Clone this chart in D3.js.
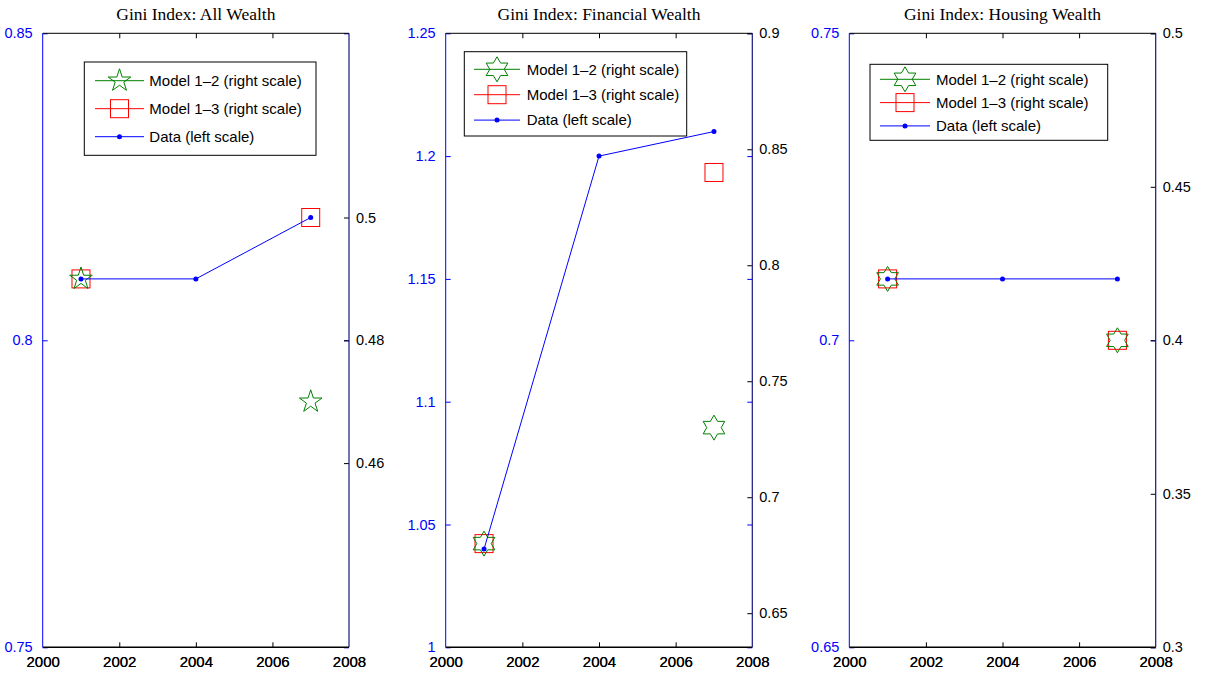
<!DOCTYPE html>
<html>
<head>
<meta charset="utf-8">
<script src="https://cdn.jsdelivr.net/npm/d3@7"></script>
<style>
  html, body { margin: 0; padding: 0; background: #fff; }
  svg { display: block; }
</style>
</head>
<body>
<svg id="chart" width="1208" height="674"></svg>
<script>
// ---- data ----
const years = [2001, 2004, 2007];
const xTicks = [2000, 2002, 2004, 2006, 2008];

const titles = ["Gini Index: All Wealth", "Gini Index: Financial Wealth", "Gini Index: Housing Wealth"];
const legendLabels = ["Model 1\u20132 (right scale)", "Model 1\u20133 (right scale)", "Data (left scale)"];

// Data series (left scale); model series (right scale), no model value for 2004
const allData = [0.81, 0.81, 0.82];
const allModel12 = [0.49, null, 0.47];
const allModel13 = [0.49, null, 0.50];

const finData = [1.04, 1.20, 1.21];
const finModel12 = [0.68, null, 0.73];
const finModel13 = [0.68, null, 0.84];

const houseData = [0.71, 0.71, 0.71];
const houseModel12 = [0.42, null, 0.40];
const houseModel13 = [0.42, null, 0.40];

// axis limits and tick labels
const allLeftDomain = [0.75, 0.85],   allLeftTicks = [0.75, 0.8, 0.85];
const allRightDomain = [0.43, 0.53],  allRightTicks = [0.46, 0.48, 0.5];
const finLeftDomain = [1, 1.25],      finLeftTicks = [1, 1.05, 1.1, 1.15, 1.2, 1.25];
const finRightDomain = [0.6353, 0.9], finRightTicks = [0.65, 0.7, 0.75, 0.8, 0.85, 0.9];
const houseLeftDomain = [0.65, 0.75], houseLeftTicks = [0.65, 0.7, 0.75];
const houseRightDomain = [0.3, 0.5],  houseRightTicks = [0.3, 0.35, 0.4, 0.45, 0.5];

// ---- layout ----
const TOP = 33.3, BOTTOM = 647.3;
const panels = [
  { x0: 42.7, x1: 349, title: titles[0], data: allData, m12: allModel12, m13: allModel13,
    ld: allLeftDomain, lt: allLeftTicks, rd: allRightDomain, rt: allRightTicks, star: 5,
    legend: { x: 84.3, y: 62, w: 231.7, h: 93.3, first: 18.7, gap: 28, lineL: 10.7, lineLen: 49, text: 65 } },
  { x0: 445.7, x1: 752.3, title: titles[1], data: finData, m12: finModel12, m13: finModel13,
    ld: finLeftDomain, lt: finLeftTicks, rd: finRightDomain, rt: finRightTicks, star: 6,
    legend: { x: 464.3, y: 51.7, w: 222.4, h: 84.3, first: 17.6, gap: 25.4, lineL: 9.7, lineLen: 46, text: 62.4 } },
  { x0: 849.3, x1: 1155.7, title: titles[2], data: houseData, m12: houseModel12, m13: houseModel13,
    ld: houseLeftDomain, lt: houseLeftTicks, rd: houseRightDomain, rt: houseRightTicks, star: 6,
    legend: { x: 870, y: 64.3, w: 237.7, h: 76, first: 15, gap: 23.3, lineL: 10, lineLen: 50, text: 66 } }
];

const BLUE = "#0000ff", RED = "#ff0000", GREEN = "#008000", NAVY = "#16167c";
const SANS = "'Liberation Sans', Arial, Helvetica, sans-serif";
const SERIF = "'Liberation Serif', 'Times New Roman', serif";
const TICK = 5;

const svg = d3.select("#chart");

// star path: n-pointed, outer radius R, inner radius r, pointing up
function starPath(n, R, r) {
  const pts = [];
  for (let i = 0; i < 2 * n; i++) {
    const a = -Math.PI / 2 + i * Math.PI / n;
    const rad = i % 2 === 0 ? R : r;
    pts.push([rad * Math.cos(a), rad * Math.sin(a)]);
  }
  return "M" + pts.map(p => p[0].toFixed(2) + "," + p[1].toFixed(2)).join("L") + "Z";
}
function starShape(n) {
  return n === 5 ? starPath(5, 11.9, 11.9 * 0.382) : starPath(6, 12.5, 12.5 / Math.sqrt(3));
}
const SQ = 18;

function drawStar(g, x, y, n) {
  g.append("path").attr("d", starShape(n)).attr("transform", `translate(${x},${y})`)
    .attr("fill", "none").attr("stroke", GREEN).attr("stroke-width", 1);
}
function drawSquare(g, x, y) {
  g.append("rect").attr("x", x - SQ / 2).attr("y", y - SQ / 2).attr("width", SQ).attr("height", SQ)
    .attr("fill", "none").attr("stroke", RED).attr("stroke-width", 1);
}
function drawDot(g, x, y) {
  g.append("circle").attr("cx", x).attr("cy", y).attr("r", 2.5).attr("fill", BLUE);
}

panels.forEach(p => {
  const x = d3.scaleLinear().domain([2000, 2008]).range([p.x0, p.x1]);
  const yL = d3.scaleLinear().domain(p.ld).range([BOTTOM, TOP]);
  const yR = d3.scaleLinear().domain(p.rd).range([BOTTOM, TOP]);
  const g = svg.append("g");

  // title
  g.append("text").attr("x", (p.x0 + p.x1) / 2).attr("y", 20).attr("text-anchor", "middle")
    .attr("font-family", SERIF).attr("font-size", 17.5).attr("fill", "#000").text(p.title);

  // bottom axis (drawn for both overlaid axes)
  for (let k = 0; k < 2; k++) {
    const ax = d3.axisBottom(x).tickValues(xTicks).tickFormat(d3.format("d")).tickSize(0).tickPadding(9.5);
    const ag = g.append("g").attr("transform", `translate(0,${BOTTOM})`).call(ax);
    ag.select(".domain").remove();
    ag.selectAll("text").attr("font-family", SANS).attr("font-size", 15).attr("fill", "#000");
  }
  // inward ticks on bottom and top edges
  const inner = xTicks.slice(1, -1);
  g.append("g").call(d3.axisBottom(x).tickValues(inner).tickSize(-TICK).tickFormat(""))
    .attr("transform", `translate(0,${BOTTOM})`)
    .call(s => s.select(".domain").remove())
    .call(s => s.selectAll("line").attr("stroke", "#000"));
  g.append("g").call(d3.axisTop(x).tickValues(inner).tickSize(-TICK).tickFormat(""))
    .attr("transform", `translate(0,${TOP})`)
    .call(s => s.select(".domain").remove())
    .call(s => s.selectAll("line").attr("stroke", "#000"));

  // left axis (blue), ticks inward
  const la = g.append("g").attr("transform", `translate(${p.x0},0)`)
    .call(d3.axisLeft(yL).tickValues(p.lt).tickFormat(d3.format("")).tickSizeInner(-TICK).tickSizeOuter(0).tickPadding(5 + TICK));
  la.select(".domain").remove();
  la.selectAll("line").attr("stroke", BLUE);
  la.selectAll("text").attr("font-family", SANS).attr("font-size", 14.5).attr("fill", BLUE);

  // left ticks repeated on right edge
  g.append("g").attr("transform", `translate(${p.x1},0)`)
    .call(d3.axisRight(yL).tickValues(p.lt).tickFormat("").tickSizeInner(-TICK).tickSizeOuter(0))
    .call(s => s.select(".domain").remove())
    .call(s => s.selectAll("line").attr("stroke", BLUE));

  // right axis (black labels), ticks inward
  const ra = g.append("g").attr("transform", `translate(${p.x1},0)`)
    .call(d3.axisRight(yR).tickValues(p.rt).tickFormat(d3.format("")).tickSizeInner(-TICK).tickSizeOuter(0).tickPadding(2 + TICK));
  ra.select(".domain").remove();
  ra.selectAll("line").attr("stroke", "#000");
  ra.selectAll("text").attr("font-family", SANS).attr("font-size", 14.5).attr("fill", "#000");

  // frame
  g.append("line").attr("x1", p.x0).attr("x2", p.x1).attr("y1", TOP).attr("y2", TOP).attr("stroke", "#000");
  g.append("line").attr("x1", p.x0).attr("x2", p.x1).attr("y1", BOTTOM).attr("y2", BOTTOM).attr("stroke", "#000").attr("stroke-width", 1.6);
  g.append("line").attr("x1", p.x0).attr("x2", p.x0).attr("y1", TOP).attr("y2", BOTTOM).attr("stroke", BLUE);
  g.append("line").attr("x1", p.x1).attr("x2", p.x1).attr("y1", TOP).attr("y2", BOTTOM).attr("stroke", NAVY).attr("stroke-width", 1.2);

  // model series (right scale), gaps where no value
  const idx = years.map((_, i) => i);
  const lineR = s => d3.line().defined(i => s[i] != null).x(i => x(years[i])).y(i => yR(s[i]))(idx);
  g.append("path").attr("d", lineR(p.m13)).attr("fill", "none").attr("stroke", RED);
  g.append("path").attr("d", lineR(p.m12)).attr("fill", "none").attr("stroke", GREEN);
  idx.filter(i => p.m13[i] != null).forEach(i => drawSquare(g, x(years[i]), yR(p.m13[i])));
  idx.filter(i => p.m12[i] != null).forEach(i => drawStar(g, x(years[i]), yR(p.m12[i]), p.star));

  // data series (left scale)
  const lineL = d3.line().x(i => x(years[i])).y(i => yL(p.data[i]));
  g.append("path").attr("d", lineL(idx)).attr("fill", "none").attr("stroke", BLUE);
  idx.forEach(i => drawDot(g, x(years[i]), yL(p.data[i])));

  // legend
  const L = p.legend;
  const lg = g.append("g");
  lg.append("rect").attr("x", L.x).attr("y", L.y).attr("width", L.w).attr("height", L.h)
    .attr("fill", "#fff").attr("stroke", "#000");
  const colors = [GREEN, RED, BLUE];
  legendLabels.forEach((lab, i) => {
    const cy = L.y + L.first + i * L.gap;
    const lx0 = L.x + L.lineL, lx1 = lx0 + L.lineLen, mx = (lx0 + lx1) / 2;
    lg.append("line").attr("x1", lx0).attr("x2", lx1).attr("y1", cy).attr("y2", cy).attr("stroke", colors[i]);
    if (i === 0) drawStar(lg, mx, cy, p.star);
    else if (i === 1) drawSquare(lg, mx, cy);
    else drawDot(lg, mx, cy);
    lg.append("text").attr("x", L.x + L.text).attr("y", cy).attr("dy", "0.35em")
      .attr("font-family", SANS).attr("font-size", 15).attr("fill", "#000").text(lab);
  });
});
</script>
</body>
</html>
